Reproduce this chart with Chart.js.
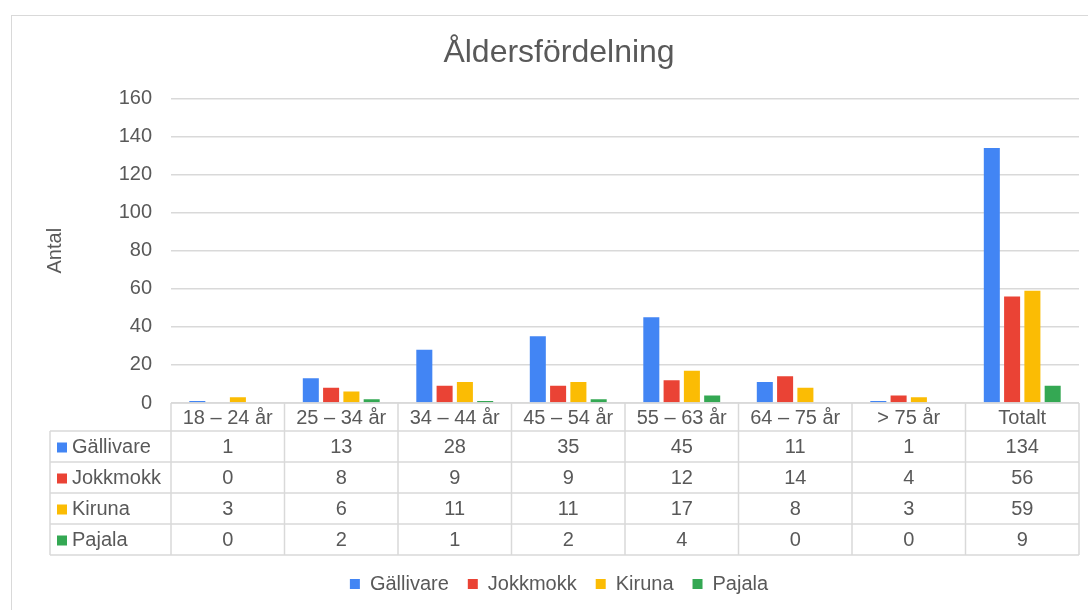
<!DOCTYPE html>
<html>
<head>
<meta charset="utf-8">
<script src="https://cdn.jsdelivr.net/npm/chart.js@4/dist/chart.umd.min.js"></script>
<style>
  body { margin: 0; background: #fff; overflow: hidden; }
  #box {
    position: absolute; left: 11px; top: 15px;
    width: 1100px; height: 610px;
    border: 1px solid #d9d9d9; background: #fff;
  }
  #box canvas { display: block; }
</style>
</head>
<body>
<div id="box"><canvas id="chart" width="1100" height="610"></canvas></div>
<script>
// ─── Data ────────────────────────────────────────────────────────────────────
const categories = ["18 – 24 år", "25 – 34 år", "34 – 44 år", "45 – 54 år",
                    "55 – 63 år", "64 – 75 år", "> 75 år", "Totalt"];
const seriesNames = ["Gällivare", "Jokkmokk", "Kiruna", "Pajala"];
const gallivare = [1, 13, 28, 35, 45, 11, 1, 134];
const jokkmokk  = [0, 8, 9, 9, 12, 14, 4, 56];
const kiruna    = [3, 6, 11, 11, 17, 8, 3, 59];
const pajala    = [0, 2, 1, 2, 4, 0, 0, 9];
const yTicks    = [0, 20, 40, 60, 80, 100, 120, 140, 160];

const seriesValues = [gallivare, jokkmokk, kiruna, pajala];
const colors = ["#4285F4", "#EA4335", "#FBBC04", "#34A853"];

const FONT = "'Liberation Sans', Arial, sans-serif";
const TEXT = "#595959";
const LINE = "#d9d9d9";

// Table geometry (relative to the chart's layout)
const HEADER_H = 28;
const ROW_H = 31;
const TABLE_LEFT = 38;

// ─── Data table plugin ───────────────────────────────────────────────────────
// Draws an Excel-style data table under the plot, using the x scale bands.
const dataTable = {
    id: "dataTable",
    afterDraw(chart) {
        const ctx = chart.ctx;
        const xs = chart.scales.x;
        const top = chart.chartArea.bottom;
        const n = categories.length;
        const w = (xs.right - xs.left) / n;
        const headBottom = top + HEADER_H;
        const bottom = headBottom + ROW_H * seriesNames.length;

        ctx.save();
        ctx.strokeStyle = LINE;
        ctx.lineWidth = 1.5;
        ctx.beginPath();
        // horizontal lines
        ctx.moveTo(xs.left, top); ctx.lineTo(xs.right, top);
        for (let r = 0; r <= seriesNames.length; r++) {
            const y = headBottom + r * ROW_H;
            ctx.moveTo(TABLE_LEFT, y); ctx.lineTo(xs.right, y);
        }
        // vertical lines
        for (let i = 0; i <= n; i++) {
            const x = xs.left + i * w;
            ctx.moveTo(x, top); ctx.lineTo(x, bottom);
        }
        ctx.moveTo(TABLE_LEFT, headBottom); ctx.lineTo(TABLE_LEFT, bottom);
        ctx.stroke();

        ctx.fillStyle = TEXT;
        ctx.font = "20px " + FONT;
        ctx.textBaseline = "middle";
        ctx.textAlign = "center";
        categories.forEach((c, i) => {
            ctx.fillText(c, xs.getPixelForValue(i), top + HEADER_H / 2 + 1);
        });

        seriesNames.forEach((name, r) => {
            const yc = headBottom + r * ROW_H + ROW_H / 2 + 1;
            ctx.fillStyle = colors[r];
            ctx.fillRect(TABLE_LEFT + 7, yc - 5, 10, 10);
            ctx.fillStyle = TEXT;
            ctx.textAlign = "left";
            ctx.fillText(name, TABLE_LEFT + 22, yc);
            ctx.textAlign = "center";
            seriesValues[r].forEach((v, i) => {
                ctx.fillText(String(v), xs.getPixelForValue(i), yc);
            });
        });
        ctx.restore();
    },
};

// ─── Chart ───────────────────────────────────────────────────────────────────
new Chart(document.getElementById("chart"), {
    type: "bar",
    data: {
        labels: categories,
        datasets: seriesNames.map((name, i) => ({
            label: name,
            data: seriesValues[i],
            backgroundColor: colors[i],
            categoryPercentage: 0.715,
            barPercentage: 0.79,
        })),
    },
    options: {
        responsive: false,
        animation: false,
        layout: { padding: { left: 27, right: 33, top: 0, bottom: 22 } },
        plugins: {
            title: {
                display: true,
                text: "Åldersfördelning",
                color: TEXT,
                font: { family: FONT, size: 32, weight: "normal" },
                padding: { top: 18, bottom: 26 },
            },
            legend: {
                position: "bottom",
                labels: {
                    color: TEXT,
                    font: { family: FONT, size: 20 },
                    boxWidth: 10,
                    boxHeight: 10,
                    padding: 19,
                },
            },
            tooltip: { enabled: false },
        },
        scales: {
            x: {
                grid: { display: false },
                border: { display: false },
                ticks: { display: false },
                afterFit: (s) => { s.height = HEADER_H + ROW_H * seriesNames.length; },
            },
            y: {
                min: 0,
                max: 160,
                afterBuildTicks: (s) => { s.ticks = yTicks.map((v) => ({ value: v })); },
                afterFit: (s) => { s.width = 132; },
                grid: { color: LINE, lineWidth: 1.5, drawTicks: false },
                border: { display: false },
                ticks: { color: TEXT, padding: 19, font: { family: FONT, size: 20 } },
                title: {
                    display: true,
                    text: "Antal",
                    color: TEXT,
                    font: { family: FONT, size: 20 },
                },
            },
        },
    },
    plugins: [dataTable],
});
</script>
</body>
</html>
